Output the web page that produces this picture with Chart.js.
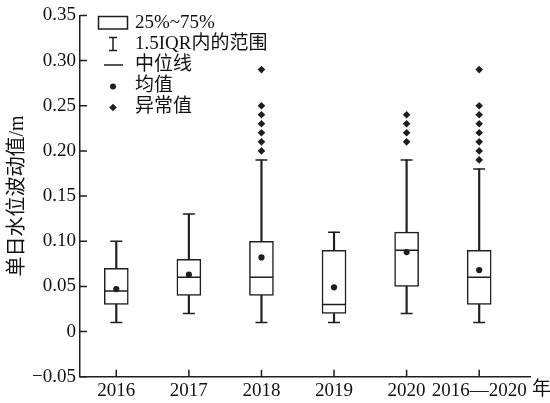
<!DOCTYPE html>
<html><head><meta charset="utf-8">
<script src="https://cdn.jsdelivr.net/npm/chart.js@4/dist/chart.umd.min.js"></script>
<style>html,body{margin:0;padding:0;background:#fff;} #wrap{width:550px;height:403px;}</style>
</head><body><div id="wrap"><canvas id="c" width="550" height="403"></canvas></div>
<script>
// ---- data ----
const categories = ['2016', '2017', '2018', '2019', '2020', '2016—2020'];
const xPositions = [1, 2, 3, 4, 5, 6];
const q1 = [0.03, 0.04, 0.04, 0.02, 0.05, 0.03];
const q3 = [0.07, 0.08, 0.10, 0.09, 0.11, 0.09];
const median = [0.045, 0.06, 0.06, 0.03, 0.09, 0.06];
const mean = [0.047, 0.063, 0.082, 0.049, 0.088, 0.068];
const whiskerLow = [0.01, 0.02, 0.01, 0.01, 0.02, 0.01];
const whiskerHigh = [0.10, 0.13, 0.19, 0.11, 0.19, 0.18];
const outliers = [
  [],
  [],
  [0.29, 0.25, 0.24, 0.23, 0.22, 0.21, 0.20],
  [],
  [0.24, 0.23, 0.22, 0.21],
  [0.29, 0.25, 0.24, 0.23, 0.22, 0.21, 0.20, 0.19]
];
const yTicks = [-0.05, 0, 0.05, 0.10, 0.15, 0.20, 0.25, 0.30, 0.35];
const yTickLabels = ['−0.05', '0', '0.05', '0.10', '0.15', '0.20', '0.25', '0.30', '0.35'];
const yTitle = '单日水位波动值/m';
const xUnit = '年';
const legendLabels = ['25%~75%', '1.5IQR内的范围', '中位线', '均值', '异常值'];

// ---- style ----
const INK = '#1e1e1e';
const FONT = "'Liberation Serif', 'Noto Sans CJK SC', serif";
const TICK_LEN = 7;

const pts = (arr) => xPositions.map((x, i) => ({x, y: arr[i]}));
const outlierPts = [];
outliers.forEach((list, i) => list.forEach(v => outlierPts.push({x: xPositions[i], y: v})));

// inward tick marks, placed through the chart's own scales
const innerTicks = {
  id: 'innerTicks',
  afterDatasetsDraw(chart) {
    const {ctx, scales: {x, y}} = chart;
    ctx.save();
    ctx.strokeStyle = INK; ctx.lineWidth = 1.5;
    ctx.beginPath();
    xPositions.forEach(v => {
      const px = x.getPixelForValue(v);
      ctx.moveTo(px, y.bottom); ctx.lineTo(px, y.bottom - TICK_LEN);
    });
    yTicks.forEach(v => {
      const py = y.getPixelForValue(v);
      ctx.moveTo(x.left, py); ctx.lineTo(x.left + TICK_LEN, py);
    });
    ctx.stroke();
    ctx.restore();
  }
};

const legendPlugin = {
  id: 'boxLegend',
  afterDraw(chart) {
    const ctx = chart.ctx;
    ctx.save();
    ctx.strokeStyle = INK; ctx.fillStyle = INK; ctx.lineWidth = 1.5;
    const rows = [23, 44, 65, 86.5, 107.5];
    const cx = 113;
    ctx.strokeRect(98.5, 16.5, 29, 12.5);
    ctx.beginPath();
    ctx.moveTo(cx, rows[1] - 6.5); ctx.lineTo(cx, rows[1] + 6.5);
    ctx.moveTo(cx - 4, rows[1] - 6.5); ctx.lineTo(cx + 4, rows[1] - 6.5);
    ctx.moveTo(cx - 4, rows[1] + 6.5); ctx.lineTo(cx + 4, rows[1] + 6.5);
    ctx.moveTo(104, rows[2]); ctx.lineTo(123, rows[2]);
    ctx.stroke();
    ctx.beginPath(); ctx.arc(cx, rows[3], 3, 0, Math.PI * 2); ctx.fill();
    const r = 3.8;
    ctx.beginPath();
    ctx.moveTo(cx, rows[4] - r); ctx.lineTo(cx + r, rows[4]);
    ctx.lineTo(cx, rows[4] + r); ctx.lineTo(cx - r, rows[4]); ctx.closePath(); ctx.fill();
    ctx.font = '19px ' + FONT;
    ctx.textBaseline = 'middle'; ctx.textAlign = 'left';
    ctx.fillStyle = '#111';
    legendLabels.forEach((t, i) => ctx.fillText(t, 135, rows[i]));
    ctx.fillText(xUnit, 532, 390);
    ctx.restore();
  }
};

new Chart(document.getElementById('c'), {
  type: 'bar',
  data: {
    datasets: [
      { type: 'scatter', label: 'outliers', data: outlierPts, order: 0,
        pointStyle: 'rectRot', pointRadius: 3.8, pointBackgroundColor: INK, pointBorderWidth: 0, pointBorderColor: INK },
      { type: 'scatter', label: 'mean', data: pts(mean), order: 1,
        pointStyle: 'circle', pointRadius: 3.1, pointBackgroundColor: INK, pointBorderWidth: 0, pointBorderColor: INK },
      { type: 'scatter', label: 'median', data: pts(median), order: 2,
        pointStyle: 'line', pointRadius: 11.5, pointBorderColor: INK, pointBorderWidth: 1.5 },
      { type: 'scatter', label: 'capHigh', data: pts(whiskerHigh), order: 3,
        pointStyle: 'line', pointRadius: 6, pointBorderColor: INK, pointBorderWidth: 1.5 },
      { type: 'scatter', label: 'capLow', data: pts(whiskerLow), order: 4,
        pointStyle: 'line', pointRadius: 6, pointBorderColor: INK, pointBorderWidth: 1.5 },
      { type: 'bar', label: 'box', order: 5, grouped: false,
        data: xPositions.map((x, i) => ({x, y: [q1[i], q3[i]]})),
        barThickness: 24, backgroundColor: '#ffffff', borderColor: INK, borderWidth: 1.5, borderSkipped: false },
      { type: 'bar', label: 'whiskerHigh', order: 6, grouped: false,
        data: xPositions.map((x, i) => ({x, y: [q3[i], whiskerHigh[i]]})),
        barThickness: 1.5, backgroundColor: INK, borderWidth: 0 },
      { type: 'bar', label: 'whiskerLow', order: 7, grouped: false,
        data: xPositions.map((x, i) => ({x, y: [whiskerLow[i], q1[i]]})),
        barThickness: 1.5, backgroundColor: INK, borderWidth: 0 }
    ]
  },
  options: {
    responsive: false,
    animation: false,
    events: [],
    layout: { padding: { left: 0, right: 20, top: 15, bottom: 0 } },
    plugins: { legend: { display: false }, tooltip: { enabled: false } },
    scales: {
      x: {
        type: 'linear', min: 0.5, max: 6.7, offset: false,
        afterBuildTicks: (s) => { s.ticks = xPositions.map(v => ({value: v})); },
        afterFit: (s) => { s.height = 26.3; },
        ticks: { color: '#111', font: { family: FONT, size: 19 }, padding: 3, maxRotation: 0, autoSkip: false,
          callback: (v) => { const i = xPositions.indexOf(v); return i >= 0 ? categories[i] : ''; } },
        grid: { display: false, offset: false, drawOnChartArea: false, drawTicks: false },
        border: { display: true, color: INK, width: 1.5 }
      },
      y: {
        type: 'linear', min: -0.05, max: 0.35,
        afterBuildTicks: (s) => { s.ticks = yTicks.map(v => ({value: v})); },
        afterFit: (s) => { s.width = 80; },
        ticks: { color: '#111', font: { family: FONT, size: 19 }, padding: 4, autoSkip: false,
          callback: (v) => { const i = yTicks.findIndex(t => Math.abs(t - v) < 1e-9); return i >= 0 ? yTickLabels[i] : ''; } },
        grid: { display: false, drawOnChartArea: false, drawTicks: false },
        border: { display: true, color: INK, width: 1.5 },
        title: { display: true, text: yTitle, color: '#111', font: { family: FONT, size: 20 }, padding: { top: 6, bottom: 0 } }
      }
    }
  },
  plugins: [innerTicks, legendPlugin]
});
</script>
</body></html>
